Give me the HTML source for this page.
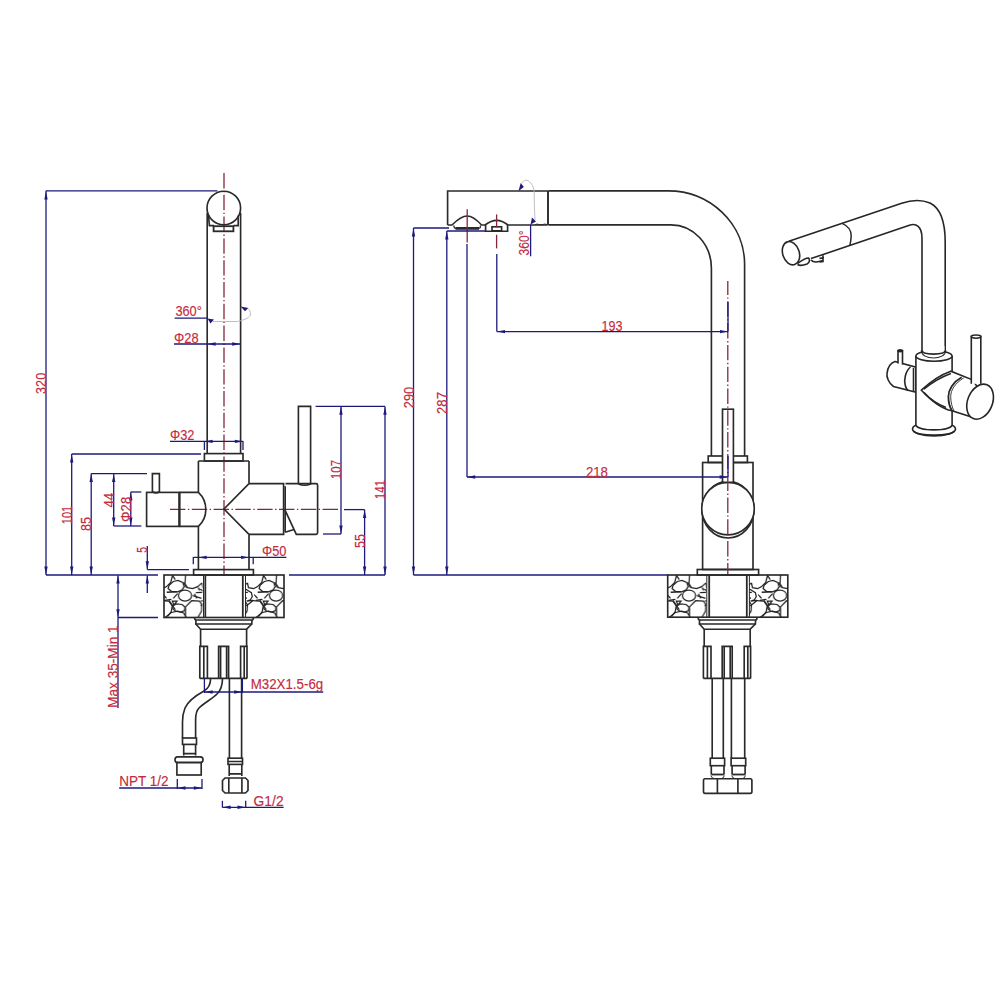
<!DOCTYPE html>
<html><head><meta charset="utf-8"><style>
html,body{margin:0;padding:0;background:#fff;}
svg{display:block;}
.k{fill:none;stroke:#2a2a2a;stroke-width:1.65;}
.k3{fill:none;stroke:#262626;stroke-width:1.6;}
.pb{fill:none;stroke:#222;stroke-width:1.25;}
.b{fill:none;stroke:#1e1a7c;stroke-width:1.3;}
.g{fill:none;stroke:#b4b4bc;stroke-width:0.9;}
.cl{fill:none;stroke:#82283a;stroke-width:1.3;stroke-dasharray:15.4 2.5 1.4 2.5;}
.ar{fill:#1e1a7c;stroke:none;}
.cl0{fill:none;stroke:#82283a;stroke-width:1.3;}
text{font-family:"Liberation Sans",sans-serif;fill:#c42a3e;stroke:#c42a3e;stroke-width:0.15;}
</style></head><body>
<svg width="1000" height="1000" viewBox="0 0 1000 1000">
<defs><pattern id="pp" patternUnits="userSpaceOnUse" x="164" y="575" width="45.5" height="60">
<g class="pb">
<path d="M9.3,6.5 L14,5.5 L18.7,7.4 L20.1,11.6 L18.2,14.9 L13.5,16.8 L7.4,16.3 L4.1,13.5 L5.1,10.2 Z"/>
<path d="M21.5,0 L21,8.8 L23.4,12.6 L28.6,13.5 L33.7,11.6 L38,7.9 M34.2,12.6 L35.6,15.4 M38,7.9 L39,12.6 L44.3,13.5 L45.5,12.9"/>
<path d="M0,12.9 L2.5,11.6 L6.7,7.4 L8.6,0 M8.8,0.8 L11.2,4.6"/>
<ellipse cx="21" cy="20.6" rx="6.6" ry="5.6"/>
<path d="M21.5,42.2 L21.5,31.9 L27.6,25.7 L35.6,26.2 L38,30 L37.6,36 L34,42.2"/>
<path d="M8.8,30.9 L12.1,29 L18.2,29.5 L21,32.3 L20.6,35.6 L16.8,37 L11.6,36.1 L8.8,33.7 Z"/>
<path d="M1.3,42.2 L7.4,37.5 L13.5,36.1 L19.6,38 L22,42.2"/>
<path d="M2.7,17.3 L13,16.8" stroke-width="1.5"/>
<path d="M13.5,18.7 L9.3,23.4 M0.8,25.3 L7.4,24.3 M8.3,26.2 L13,26.2 L9.8,30 Z M5.1,25.7 L11.2,34.7 M30.4,18.7 L32.8,23.4 M31.9,17.7 L38.4,17.3 M29,20.6 L37.5,23.4 M19.6,7.4 L22.4,12.6"/>
<path d="M36,14 L41.9,17.7 L42.8,21.5 L41,24.8 L37.2,26.2 M44.7,19.6 L45.5,20.5 M0,20.5 L2.5,23.4 M37.7,26.2 L43.3,25.3 L45.5,25.9 M0,25.9 L4.9,26.2 L8.2,30.9 L7.2,36.6 L3.5,41.7 M36.7,30.9 L43.3,25.7"/>
</g>
</pattern></defs>
<rect width="1000" height="1000" fill="#fff"/>
<line x1="224" y1="173" x2="224" y2="575" class="cl"/>
<line x1="170" y1="509.4" x2="339" y2="509.4" class="cl"/>
<circle cx="223.8" cy="208" r="16.8" class="k"/>
<line x1="207.2" y1="213" x2="207.2" y2="453.6" class="k"/>
<line x1="240.6" y1="213" x2="240.6" y2="453.6" class="k"/>
<path d="M208.5,215.4 L209.4,225.6 L214,225.6 M238.2,215.4 L238.2,225.6 L233.5,225.6" class="k"/>
<rect x="213.6" y="226.2" width="19.8" height="5.1" class="k" style="stroke-width:1.8"/>
<rect x="204.4" y="453.6" width="38.6" height="7.4" class="k"/>
<path d="M198.4,461 L249,461 M198.4,461 L198.4,492.4 M198.4,526.4 L198.4,569.6 M249,461 L249,483.6 M249,534.4 L249,569.6" class="k"/>
<rect x="193.6" y="569.6" width="59.8" height="5.4" class="k"/>
<rect x="146.6" y="492.4" width="32.8" height="34.0" class="k"/>
<line x1="179.4" y1="492.4" x2="179.4" y2="526.4" class="k" style="stroke-width:2.2"/>
<path d="M179.4,492.4 L198.4,492.4 A23.2,23.2 0 0 1 198.4,526.4 L179.4,526.4" class="k"/>
<path d="M152.4,492.4 L152.4,473.6 L159.4,473.6 L159.4,492.4 M152.4,491.8 Q155.9,494 159.4,491.8" class="k"/>
<path d="M249,483.6 L224,509 L249,534.4" class="k"/>
<path d="M249,483.6 L283.6,483.6 L283.6,534.4 L249,534.4" class="k"/>
<path d="M285.2,486.2 L285.2,532.2" class="k"/>
<path d="M285.5,483.6 L316,483.6 Q317.6,483.6 317.6,485.2 L317.6,532.8 Q317.6,534.4 316,534.4 L296.3,534.4 L284.8,509.6" class="k"/>
<path d="M285.2,532.2 L294,529.5" class="k"/>
<path d="M298.4,484 L298.4,406.4 L310.6,406.4 L310.6,484 Q304.5,486.5 298.4,484" class="k"/>
<rect x="164" y="575" width="120" height="42.5" class="k"/>
<line x1="203.5" y1="575" x2="203.5" y2="617.5" class="k" style="stroke-width:1.0"/>
<line x1="205.3" y1="575" x2="205.3" y2="617.5" class="k" style="stroke-width:1.8"/>
<line x1="242.8" y1="575" x2="242.8" y2="617.5" class="k" style="stroke-width:1.8"/>
<line x1="245.5" y1="575" x2="245.5" y2="617.5" class="k" style="stroke-width:1.0"/>
<rect x="164" y="575" width="38.6" height="42.5" fill="url(#pp)"/>
<rect x="245.2" y="575" width="38.8" height="42.5" fill="url(#pp)"/>
<path d="M194.6,617.5 Q194.6,620 196,620 L252,620 Q253.4,620 253.4,617.5" class="k"/>
<path d="M196,620 L195.8,624 L251.8,624 L252,620" class="k"/>
<path d="M195.8,624 L200.6,629.2 L246.6,629.2 L251.8,624" class="k"/>
<path d="M200.6,629.2 L200.6,646.4 M246.6,629.2 L246.6,646.4" class="k"/>
<path d="M199.8,678.4 L199.8,646.4 L207.4,646.4 L207.4,678.4 M203.8,646.4 L203.8,678.4" class="k"/>
<path d="M218.6,678.4 L218.6,646.4 L228.6,646.4 L228.6,678.4 M220.6,646.4 L220.6,678.4 M226.6,646.4 L226.6,678.4" class="k"/>
<path d="M240.6,678.4 L240.6,646.4 L247,646.4 L247,678.4 M244.2,646.4 L244.2,678.4" class="k"/>
<line x1="199.8" y1="678.4" x2="247" y2="678.4" class="k" style="stroke-width:1.6"/>
<path d="M210.6,678.4 C210.6,684 209,688 204,691 C195,696 188,701 185,708 C183,713 182.5,717 182.5,722 L182.5,738" class="k"/>
<path d="M222.5,678.4 C222.5,684 222,689 217,694 C212,699 204,703 199,708 C196,711 195.6,714 195.6,720 L195.6,738" class="k"/>
<line x1="229.4" y1="678.4" x2="229.4" y2="758.2" class="k"/>
<line x1="241.6" y1="678.4" x2="241.6" y2="758.2" class="k"/>
<rect x="182.5" y="738" width="14.0" height="6.4" class="k"/>
<path d="M183.7,744.4 L183.7,755.5 M195.6,744.4 L195.6,755.5 M183.7,753.6 L195.6,753.6" class="k"/>
<path d="M177.5,756.9 L200.5,756.9 Q203,756.9 203,759.7 Q203,762.5 200.5,762.5 L177.5,762.5 Q175,762.5 175,759.7 Q175,756.9 177.5,756.9 Z" class="k"/>
<rect x="176.9" y="762.5" width="24.3" height="12.5" class="k"/>
<rect x="228" y="758.2" width="14.5" height="6.2" class="k"/>
<path d="M228.3,761.5 L242.3,761.5 M229.2,764.4 L229.2,776 M241.8,764.4 L241.8,776 M229.2,773.8 L241.8,773.8" class="k"/>
<path d="M225,778 L245.5,778 L248,780.5 L248,790.5 L245.5,793 L225,793 L222.5,790.5 L222.5,780.5 Z" class="k"/>
<line x1="228.8" y1="778" x2="228.8" y2="793" class="k"/>
<line x1="241.9" y1="778" x2="241.9" y2="793" class="k"/>
<line x1="46" y1="190.8" x2="217.5" y2="190.8" class="b"/>
<line x1="46" y1="190.8" x2="46" y2="575" class="b"/>
<polygon class="ar" points="46.0,191.5 44.3,199.5 47.7,199.5"/>
<polygon class="ar" points="46.0,574.5 44.3,566.5 47.7,566.5"/>
<text transform="translate(46,383.4) rotate(-90)" text-anchor="middle" font-size="14.5" textLength="21.2" lengthAdjust="spacingAndGlyphs">320</text>
<line x1="46" y1="575" x2="158" y2="575" class="b"/>
<line x1="71.7" y1="454" x2="201" y2="454" class="b"/>
<line x1="71.7" y1="454" x2="71.7" y2="575" class="b"/>
<polygon class="ar" points="71.7,454.5 70.0,462.5 73.4,462.5"/>
<polygon class="ar" points="71.7,574.5 70.0,566.5 73.4,566.5"/>
<text transform="translate(72,515) rotate(-90)" text-anchor="middle" font-size="14.5" textLength="18.5" lengthAdjust="spacingAndGlyphs">101</text>
<line x1="91.2" y1="473.6" x2="147" y2="473.6" class="b"/>
<line x1="91.2" y1="473.6" x2="91.2" y2="575" class="b"/>
<polygon class="ar" points="91.2,474.0 89.5,482.0 92.9,482.0"/>
<polygon class="ar" points="91.2,574.5 89.5,566.5 92.9,566.5"/>
<text transform="translate(91.2,524) rotate(-90)" text-anchor="middle" font-size="14.5" textLength="13.8" lengthAdjust="spacingAndGlyphs">85</text>
<line x1="113.7" y1="473.6" x2="113.7" y2="526" class="b"/>
<polygon class="ar" points="113.7,474.0 112.0,482.0 115.4,482.0"/>
<polygon class="ar" points="113.7,525.6 112.0,517.6 115.4,517.6"/>
<text transform="translate(113.7,500.3) rotate(-90)" text-anchor="middle" font-size="14.5" textLength="14.6" lengthAdjust="spacingAndGlyphs">44</text>
<line x1="130.8" y1="492" x2="141.3" y2="492" class="b"/>
<line x1="113.7" y1="526" x2="141.3" y2="526" class="b"/>
<line x1="130.8" y1="492" x2="130.8" y2="526" class="b"/>
<polygon class="ar" points="130.8,492.5 129.1,500.5 132.5,500.5"/>
<polygon class="ar" points="130.8,525.6 129.1,517.6 132.5,517.6"/>
<text transform="translate(131,509.4) rotate(-90)" text-anchor="middle" font-size="14.5" textLength="25.3" lengthAdjust="spacingAndGlyphs">Φ28</text>
<line x1="147.3" y1="546" x2="147.3" y2="569.6" class="b"/>
<polygon class="ar" points="147.3,569.2 145.6,561.2 149.0,561.2"/>
<line x1="147.3" y1="569.6" x2="189" y2="569.6" class="b"/>
<line x1="147.3" y1="575.5" x2="147.3" y2="593" class="b"/>
<polygon class="ar" points="147.3,575.5 145.6,583.5 149.0,583.5"/>
<text transform="translate(147,549.9) rotate(-90)" text-anchor="middle" font-size="14.5" textLength="5.8" lengthAdjust="spacingAndGlyphs">5</text>
<line x1="118" y1="575.5" x2="118" y2="708" class="b"/>
<polygon class="ar" points="118.0,575.5 116.3,583.5 119.7,583.5"/>
<polygon class="ar" points="118.0,617.2 116.3,609.2 119.7,609.2"/>
<line x1="118" y1="617.5" x2="158" y2="617.5" class="b"/>
<text transform="translate(118,666.6) rotate(-90)" text-anchor="middle" font-size="14.5" textLength="82.5" lengthAdjust="spacingAndGlyphs">Max 35-Min 1</text>
<text x="175.4" y="315.8" font-size="14.5" textLength="26.4" lengthAdjust="spacingAndGlyphs">360°</text>
<line x1="174.6" y1="318.2" x2="207.2" y2="318.2" class="b"/>
<polygon class="ar" points="207.5,318.5 214,319.5 210.5,323.5"/>
<path d="M213,321.5 L237.3,321.5 C245,320 251,317 250.6,313.9 C250.4,311.5 249.5,309.5 248.3,308.7" class="g"/>
<polygon class="ar" points="240.6,306.4 248.3,308 245,311.3"/>
<text x="174" y="342.8" font-size="14.5" textLength="24.6" lengthAdjust="spacingAndGlyphs">Φ28</text>
<line x1="174" y1="344" x2="240.4" y2="344" class="b"/>
<polygon class="ar" points="207.6,344.0 215.6,342.3 215.6,345.7"/>
<polygon class="ar" points="240.2,344.0 232.2,342.3 232.2,345.7"/>
<text x="170" y="440" font-size="14.5" textLength="24.4" lengthAdjust="spacingAndGlyphs">Φ32</text>
<line x1="170" y1="441.4" x2="243" y2="441.4" class="b"/>
<polygon class="ar" points="204.6,441.4 212.6,439.7 212.6,443.1"/>
<polygon class="ar" points="242.8,441.4 234.8,439.7 234.8,443.1"/>
<line x1="204.4" y1="441" x2="204.4" y2="450" class="b"/>
<line x1="243" y1="441" x2="243" y2="450" class="b"/>
<text x="262" y="556" font-size="14.5" textLength="24.4" lengthAdjust="spacingAndGlyphs">Φ50</text>
<line x1="193.3" y1="557.4" x2="286.4" y2="557.4" class="b"/>
<polygon class="ar" points="198.6,557.4 206.6,555.7 206.6,559.1"/>
<polygon class="ar" points="249.0,557.4 241.0,555.7 241.0,559.1"/>
<line x1="193.3" y1="557" x2="193.3" y2="564.2" class="b"/>
<line x1="253.2" y1="557" x2="253.2" y2="564.2" class="b"/>
<line x1="315.6" y1="406.4" x2="385" y2="406.4" class="b"/>
<line x1="341" y1="406.4" x2="341" y2="534" class="b"/>
<polygon class="ar" points="341.0,406.8 339.3,414.8 342.7,414.8"/>
<polygon class="ar" points="341.0,533.6 339.3,525.6 342.7,525.6"/>
<line x1="323" y1="534" x2="341" y2="534" class="b"/>
<text transform="translate(341,469.5) rotate(-90)" text-anchor="middle" font-size="14.5" textLength="19" lengthAdjust="spacingAndGlyphs">107</text>
<line x1="385" y1="406.4" x2="385" y2="575" class="b"/>
<polygon class="ar" points="385.0,406.8 383.3,414.8 386.7,414.8"/>
<polygon class="ar" points="385.0,574.6 383.3,566.6 386.7,566.6"/>
<line x1="289" y1="575" x2="385" y2="575" class="b"/>
<text transform="translate(385,489.5) rotate(-90)" text-anchor="middle" font-size="14.5" textLength="19" lengthAdjust="spacingAndGlyphs">141</text>
<line x1="344" y1="509.6" x2="364.6" y2="509.6" class="b"/>
<line x1="364.6" y1="509.6" x2="364.6" y2="575" class="b"/>
<polygon class="ar" points="364.6,510.0 362.9,518.0 366.3,518.0"/>
<polygon class="ar" points="364.6,574.6 362.9,566.6 366.3,566.6"/>
<text transform="translate(364.6,541) rotate(-90)" text-anchor="middle" font-size="14.5" textLength="14" lengthAdjust="spacingAndGlyphs">55</text>
<line x1="204.4" y1="678.4" x2="204.4" y2="693" class="b"/>
<line x1="242.4" y1="678.4" x2="242.4" y2="693" class="b"/>
<line x1="204.4" y1="692" x2="323.2" y2="692" class="b"/>
<polygon class="ar" points="204.6,692.0 212.6,690.3 212.6,693.7"/>
<polygon class="ar" points="242.2,692.0 234.2,690.3 234.2,693.7"/>
<text x="250.7" y="688.7" font-size="14.5" textLength="72.5" lengthAdjust="spacingAndGlyphs">M32X1.5-6g</text>
<text x="119.2" y="786.4" font-size="14.5" textLength="49.2" lengthAdjust="spacingAndGlyphs">NPT 1/2</text>
<line x1="119.2" y1="788" x2="202" y2="788" class="b"/>
<line x1="177.3" y1="779" x2="177.3" y2="789" class="b"/>
<line x1="202" y1="779" x2="202" y2="789" class="b"/>
<polygon class="ar" points="177.5,788.0 185.5,786.3 185.5,789.7"/>
<polygon class="ar" points="201.8,788.0 193.8,786.3 193.8,789.7"/>
<text x="253.6" y="805.6" font-size="14.5" textLength="30" lengthAdjust="spacingAndGlyphs">G1/2</text>
<line x1="222.4" y1="807.3" x2="283.6" y2="807.3" class="b"/>
<line x1="222.4" y1="800.8" x2="222.4" y2="807.5" class="b"/>
<line x1="245.7" y1="800.8" x2="245.7" y2="807.5" class="b"/>
<polygon class="ar" points="222.6,807.3 230.6,805.6 230.6,809.0"/>
<polygon class="ar" points="245.5,807.3 237.5,805.6 237.5,809.0"/>
<path d="M447.6,225 L447.6,191 L548.4,191" class="k"/>
<line x1="548" y1="191" x2="548" y2="225" class="k" style="stroke-width:1.9"/>
<path d="M548.4,190.8 L668,190.8 A76.6,73.4 0 0 1 744.6,264.2 L744.6,456" class="k"/>
<path d="M548.4,224.8 L671,224.8 A40.4,43.4 0 0 1 711.4,268.2 L711.4,456" class="k"/>
<path d="M447.6,225 L452,225 C457,220 462,216 467.2,216 C472,216 477,220 481.6,225 L485,225" class="k"/>
<path d="M454,225.4 L454,227 Q454,228.4 456,228.4 L478.4,228.4 Q480.4,228.4 480.4,227 L480.4,225.4" class="k" style="stroke-width:1.3"/>
<line x1="455.5" y1="228.4" x2="479" y2="228.4" class="k" style="stroke-width:2.8"/>
<path d="M485,225 C489,222 493,220.4 496.8,220.4 C500.6,220.4 504,222 508,225 L547.6,225" class="k"/>
<path d="M485.6,225 L485.6,231.2 L507.6,231.2 L507.6,225" class="k"/>
<rect x="492" y="226.8" width="9.6" height="4.0" class="k"/>
<line x1="467.2" y1="209.2" x2="467.2" y2="242.4" class="cl0"/>
<line x1="496.6" y1="214.4" x2="496.6" y2="227.2" class="cl0"/>
<line x1="496.6" y1="234.8" x2="496.6" y2="248.4" class="cl0"/>
<rect x="708.2" y="456" width="39.2" height="6.5" class="k"/>
<rect x="702.6" y="462.5" width="50.4" height="107.0" class="k"/>
<rect x="697.3" y="569.5" width="61.3" height="5.5" class="k"/>
<ellipse cx="728" cy="509.6" rx="26" ry="28.4" class="k" style="fill:#fff"/>
<circle cx="728" cy="508.6" r="26.3" class="k" style="fill:#fff"/>
<rect x="722.5" y="409.2" width="10.9" height="73.1" class="k" style="fill:#fff"/>
<line x1="727.8" y1="281" x2="727.8" y2="575" class="cl" style="stroke-dashoffset:1.5"/>
<rect x="667.7" y="575" width="120.1" height="42.2" class="k"/>
<line x1="706.8" y1="575" x2="706.8" y2="617.2" class="k" style="stroke-width:1.0"/>
<line x1="709.2" y1="575" x2="709.2" y2="617.2" class="k" style="stroke-width:1.8"/>
<line x1="746.8" y1="575" x2="746.8" y2="617.2" class="k" style="stroke-width:1.8"/>
<line x1="749.4" y1="575" x2="749.4" y2="617.2" class="k" style="stroke-width:1.0"/>
<g transform="translate(504,0)"><rect x="164" y="575" width="38.6" height="42.5" fill="url(#pp)"/><rect x="245.2" y="575" width="38.8" height="42.5" fill="url(#pp)"/></g>
<path d="M698.2,617.5 Q698.2,620 699.6,620 L755.6,620 Q757.0,620 757.0,617.5" class="k"/>
<path d="M699.6,620 L699.4000000000001,624 L755.4000000000001,624 L755.6,620" class="k"/>
<path d="M699.4000000000001,624 L704.2,629.2 L750.2,629.2 L755.4000000000001,624" class="k"/>
<path d="M704.2,629.2 L704.2,646.4 M750.2,629.2 L750.2,646.4" class="k"/>
<path d="M703.4000000000001,678.4 L703.4000000000001,646.4 L711.0,646.4 L711.0,678.4 M707.4000000000001,646.4 L707.4000000000001,678.4" class="k"/>
<path d="M722.2,678.4 L722.2,646.4 L732.2,646.4 L732.2,678.4 M724.2,646.4 L724.2,678.4 M730.2,646.4 L730.2,678.4" class="k"/>
<path d="M744.2,678.4 L744.2,646.4 L750.6,646.4 L750.6,678.4 M747.8,646.4 L747.8,678.4" class="k"/>
<line x1="703.4000000000001" y1="678.4" x2="750.6" y2="678.4" class="k" style="stroke-width:1.6"/>
<line x1="712.2" y1="678.4" x2="712.2" y2="758.2" class="k"/>
<line x1="723.3" y1="678.4" x2="723.3" y2="758.2" class="k"/>
<line x1="731.4" y1="678.4" x2="731.4" y2="758.2" class="k"/>
<line x1="744.7" y1="678.4" x2="744.7" y2="758.2" class="k"/>
<rect x="710.3" y="758.2" width="14.3" height="7.5" class="k"/>
<path d="M711.3,765.7 L711.3,774.5 M724.0,765.7 L724.0,774.5" class="k"/>
<line x1="711.3" y1="774.5" x2="724.0" y2="774.5" class="k" style="stroke-width:1.8"/>
<path d="M710.8,775.5 Q711.8,778.5 714.3,778.7 M724.4,775.5 Q723.6,778.5 721.1,778.7" class="k" style="stroke-width:1.0"/>
<rect x="731.1" y="758.2" width="14.6" height="7.5" class="k"/>
<path d="M732.1,765.7 L732.1,774.5 M745.1,765.7 L745.1,774.5" class="k"/>
<line x1="732.1" y1="774.5" x2="745.1" y2="774.5" class="k" style="stroke-width:1.8"/>
<path d="M731.6,775.5 Q732.6,778.5 735.1,778.7 M745.5,775.5 Q744.7,778.5 742.2,778.7" class="k" style="stroke-width:1.0"/>
<path d="M705,778.7 L750.4,778.7 Q751.9,778.7 751.9,780.5 L751.9,791.5 Q751.9,793.3 750.4,793.3 L705,793.3 Q703.5,793.3 703.5,791.5 L703.5,780.5 Q703.5,778.7 705,778.7 Z" class="k"/>
<line x1="717.4" y1="778.7" x2="717.4" y2="793.3" class="k"/>
<line x1="737.9" y1="778.7" x2="737.9" y2="793.3" class="k"/>
<line x1="413.5" y1="228" x2="449" y2="228" class="b"/>
<line x1="413.5" y1="228" x2="413.5" y2="575" class="b"/>
<polygon class="ar" points="413.5,228.4 411.8,236.4 415.2,236.4"/>
<polygon class="ar" points="413.5,574.6 411.8,566.6 415.2,566.6"/>
<text transform="translate(413.5,397.5) rotate(-90)" text-anchor="middle" font-size="14.5" textLength="21.3" lengthAdjust="spacingAndGlyphs">290</text>
<line x1="446.8" y1="231" x2="485" y2="231" class="b"/>
<line x1="446.8" y1="231" x2="446.8" y2="575" class="b"/>
<polygon class="ar" points="446.8,231.4 445.1,239.4 448.5,239.4"/>
<polygon class="ar" points="446.8,574.6 445.1,566.6 448.5,566.6"/>
<text transform="translate(446.8,403) rotate(-90)" text-anchor="middle" font-size="14.5" textLength="22" lengthAdjust="spacingAndGlyphs">287</text>
<line x1="413.5" y1="575" x2="667.7" y2="575" class="b"/>
<line x1="467" y1="244" x2="467" y2="477" class="b"/>
<line x1="467" y1="477" x2="727.5" y2="477" class="b"/>
<polygon class="ar" points="467.2,477.0 475.2,475.3 475.2,478.7"/>
<polygon class="ar" points="727.6,477.0 719.6,475.3 719.6,478.7"/>
<text x="585.9" y="476.5" font-size="14.5" textLength="22.1" lengthAdjust="spacingAndGlyphs">218</text>
<line x1="728" y1="456" x2="728" y2="477" class="b"/>
<line x1="496.8" y1="254" x2="496.8" y2="331.6" class="b"/>
<line x1="496.8" y1="331.6" x2="728" y2="331.6" class="b"/>
<polygon class="ar" points="497.0,331.6 505.0,329.9 505.0,333.3"/>
<polygon class="ar" points="728.0,331.6 720.0,329.9 720.0,333.3"/>
<line x1="728" y1="302" x2="728" y2="331.6" class="b"/>
<text x="601.6" y="331" font-size="14.5" textLength="21" lengthAdjust="spacingAndGlyphs">193</text>
<line x1="530.6" y1="224.6" x2="530.6" y2="256.3" class="b"/>
<polygon class="ar" points="530.5,224.5 536,221.5 532,217.5"/>
<path d="M535,220 C534.5,210 534.2,200 534.2,193.4 C534,187 532,183.5 528,180.5 C525,179.5 523,181 522,183.5" class="g"/>
<polygon class="ar" points="518.5,191 523.9,187.1 520.7,183"/>
<path d="M535,224.6 C538,223 540,226 543,224.5 C545,223.5 546.5,224.8 548,224.6" class="k" style="stroke-width:1"/>
<text transform="translate(529.2,242.9) rotate(-90)" text-anchor="middle" font-size="14.5" textLength="25.1" lengthAdjust="spacingAndGlyphs">360°</text>
<g class="k3">
<path d="M788.8,241.2 L901.7,203.2 C913,199.5 922,199.8 930,203 C940,208 945.2,222 945.2,242 L945.2,351"/>
<path d="M811,258.6 L909.4,225.2 C916,223 922,226 922,238.4 L922,351"/>
<path d="M842.2,223.4 C848,226 851.5,231 851.2,236 C851,240 850.5,243 849.8,245.4" stroke-width="1.5"/>
<path d="M797.5,263.5 C801,261 805,258 808.5,258 C810,259 810,262.5 807,264 C803,265.5 799,265.5 797.5,264.5" fill="#fff"/>
<path d="M811,260 C813,262.5 817,262.6 823,260.6 L823,255.2 M819.5,258.4 L823,258 L823,261.5 L819.5,262"/>
<ellipse cx="791" cy="253.2" rx="8.3" ry="11.9" transform="rotate(-18 791 253.2)" fill="#fff"/>
<path d="M912.5,429 A21.5,7 0 0 0 955.5,429 A21.5,7 0 0 0 912.5,429 Z" fill="#fff"/>
<path d="M913.5,431 C918,436.5 950,436.5 954.5,431"/>
<path d="M895,361.5 L916,367.2 L916,392.3 L893.5,386.5 C888.5,383 886.5,377 887,373.5 C887.6,367.5 890.5,363 895,361.5 Z" fill="#fff"/>
<path d="M910.5,367 C905.5,371 903.6,380 905.3,385.5 C906,388 907,390 908.2,390.6"/>
<path d="M913.5,368 L913.5,391.5"/>
<path d="M898,363.5 L898,350.8 L902.5,350.8 L902.5,364.5" fill="#fff"/>
<ellipse cx="900.2" cy="350.8" rx="2.25" ry="0.9"/>
<path d="M915.9,356 L915.9,425 C918,431.5 950,431.5 952.1,425 L952.1,356" fill="#fff"/>
<ellipse cx="934" cy="356" rx="18.1" ry="5.2" fill="#fff"/>
<path d="M923,346 L923,350.8 C923.5,354.3 943.9,354.3 944.4,350.8 L944.4,346 Z" fill="#fff" stroke="none"/>
<path d="M921.5,350.5 C922,355.2 945,355.2 945.5,350.5" stroke-width="1.7"/>
<path d="M921.4,350.5 C921.2,360.5 945.8,360.5 945.6,350.5" stroke-width="1.1"/>
<path d="M921.4,390.2 C929,383 940,375 950.8,371.2 L971.8,379.6 L980,390 L980,412 L974.8,418 L952,410.8 C945,409.5 935,405 921.4,390.2 Z" fill="#fff"/>
<path d="M923.8,389.2 C931,383.5 941,377.2 950.9,373.6" />
<path d="M924,392.5 C930,399 937,404 946,407.5"/>
<path d="M961.6,377.2 C953,382 948.4,390 948.4,396.4 C948.4,403 950,407.5 952,410.8" stroke-width="1.8"/>
<path d="M963.8,377.9 C955.2,383 950.7,390 950.7,396.6 C950.7,402 952,407 954,411.2" stroke-width="0.9"/>
<path d="M971.3,383.8 L971.3,336.5 L980.8,336.5 L980.8,383.8" fill="#fff"/>
<ellipse cx="976.05" cy="336.6" rx="4.75" ry="1.6" fill="#fff"/>
<ellipse cx="980.1" cy="401.7" rx="12.4" ry="18.2" transform="rotate(22 980.1 401.7)" fill="#fff"/>
</g>
</svg>
</body></html>
